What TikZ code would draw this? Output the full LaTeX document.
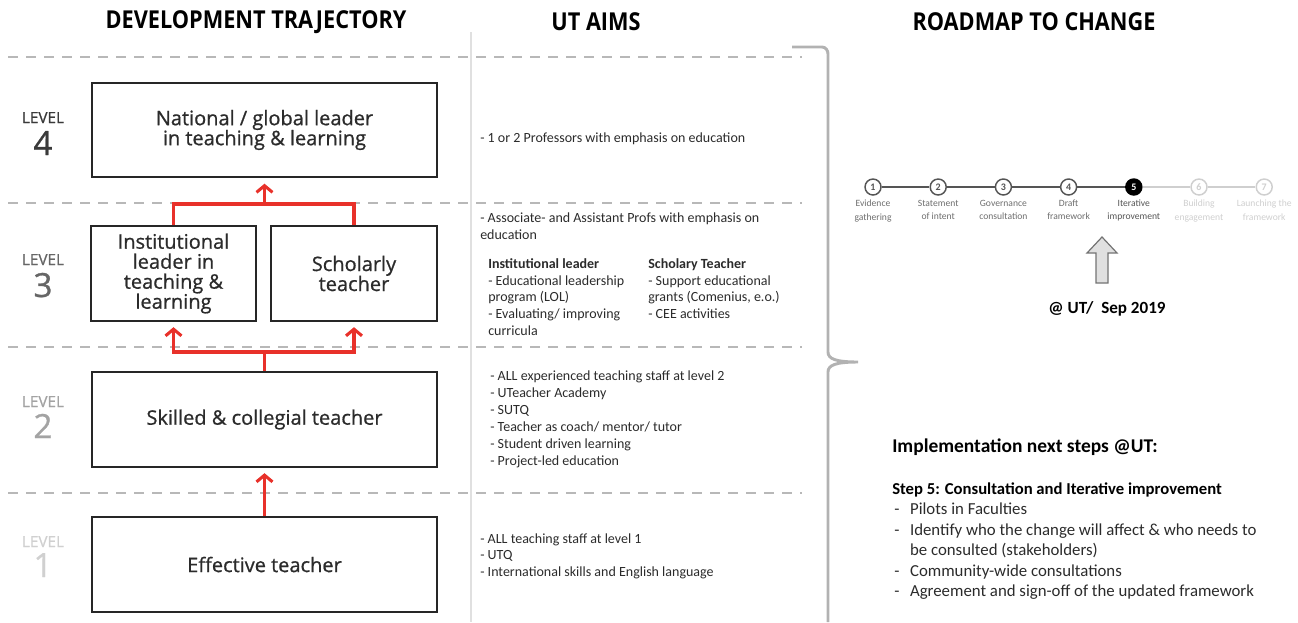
\documentclass[tikz,border=0pt]{standalone}
\usepackage{fontspec}
\setmainfont{Open Sans}
\newfontfamily\calfont{Carlito}
\newfontfamily\semifont{Open Sans}[FakeBold=0.8]
\newfontfamily\headfont{Open Sans}[FakeStretch=0.88]
\usetikzlibrary{positioning,arrows.meta}
\definecolor{redc}{HTML}{E8312A}
\definecolor{txtdark}{HTML}{2B2B2B}
\definecolor{dashgray}{HTML}{B8B8B8}
\definecolor{bracegray}{HTML}{B2B2B2}
\definecolor{stepdark}{HTML}{555555}
\definecolor{steplight}{HTML}{CFCFCF}
\definecolor{lv4}{HTML}{3A3A3A}
\definecolor{lv3}{HTML}{666666}
\definecolor{lv2}{HTML}{A3A3A3}
\definecolor{lv1}{HTML}{D0D0D0}

\begin{document}
\begin{tikzpicture}[x=0.75pt,y=-0.75pt,
    every node/.style={inner sep=0pt, text=txtdark},
    headline/.style={font=\headfont\bfseries\fontsize{18.5}{18.5}\selectfont, text=black},
    lvlbox/.style={draw=black!85, line width=1.5pt, align=center, minimum height=71pt,
        font=\semifont\fontsize{15}{15}\selectfont},
    lvlword/.style={anchor=base, font=\semifont\fontsize{11.5}{11.5}\selectfont},
    lvlnum/.style={anchor=base, font=\semifont\fontsize{25}{25}\selectfont},
    aim/.style={anchor=north west, align=left, font=\calfont\fontsize{10.5}{12.7}\selectfont},
    levelsep/.style={draw=dashgray, line width=1.3pt, dash pattern=on 7.5pt off 6pt},
    redline/.style={draw=redc, line width=2.3pt},
    redarrow/.style={redline, -{Straight Barb[length=5pt,width=12pt]}, shorten >=4pt},
    bracket/.style={draw=bracegray, line width=2.2pt},
    stepdot/.style={circle, draw, line width=1.1pt, fill=white, minimum size=12pt,
        font=\calfont\bfseries\fontsize{7.5}{7.5}\selectfont},
    done/.style={draw=stepdark, text=stepdark},
    now/.style={draw=black, fill=black, text=white},
    todo/.style={draw=steplight, text=steplight},
    steplab/.style={align=center, font=\calfont\fontsize{7.2}{10}\selectfont},
    labdone/.style={text=stepdark!85},
    labnow/.style={text=stepdark},
    labtodo/.style={text=steplight},
    linkdone/.style={draw=stepdark, line width=1.1pt},
    linktodo/.style={draw=steplight, line width=1.1pt},
  ]
  \useasboundingbox (0,0) rectangle (1298,622);

  \node[headline] (ttraj) at (256,22) {DEVELOPMENT TRAJECTORY};
  \node[headline] (taims) at (596,22) {UT AIMS};
  \node[headline] (troad) at (1034,22) {ROADMAP TO CHANGE};

  \draw[draw=black!12, line width=0.8pt] (471,32) -- (471,622);
  \foreach \y in {57,203,347,493}
    \draw[levelsep] (8,\y) -- (802,\y);

  \foreach \n/\yw/\yn in {4/123/155,3/265/297,2/407/438,1/547/577} {
    \node[lvlword, text=lv\n] (w\n) at (43,\yw) {LEVEL};
    \node[lvlnum, text=lv\n] (n\n) at (43,\yn) {\n};
  }

  \node[lvlbox, minimum width=258.75pt] (natl) at (264.5,130) {National / global leader\\in teaching \& learning};
  \node[lvlbox, minimum width=123.75pt] (inst) at (173.5,273.5) {Institutional\\leader in\\teaching \&\\learning};
  \node[lvlbox, minimum width=124.5pt] (schol) at (354,273.5) {Scholarly\\teacher};
  \node[lvlbox, minimum width=258.75pt] (skill) at (264.5,419.5) {Skilled \& collegial teacher};
  \node[lvlbox, minimum width=258.75pt] (eff) at (264.5,564.5) {Effective teacher};

  \coordinate (fork) at (264.5,352);
  \coordinate (join) at (264.5,204);
  \draw[redarrow] (eff) -- (skill);
  \draw[redline] (skill.north) -- (fork);
  \draw[redarrow] (fork) -| (inst.south);
  \draw[redarrow] (fork) -| (schol.south);
  \draw[redline] (inst.north) |- (join) -| (schol.north);
  \draw[redarrow] (join) -- (natl.south);

  \node[aim] (a4) at (480,133) {- 1 or 2 Professors with emphasis on education};
  \node[aim] (a3) at (480,213) {- Associate- and Assistant Profs with emphasis on\\education};
  \node[aim] (a3l) at (488,258) {\textbf{Institutional leader}\\- Educational leadership\\program (LOL)\\- Evaluating/ improving\\curricula};
  \node[aim] (a3r) at (648,258) {\textbf{Scholary Teacher}\\- Support educational\\grants (Comenius, e.o.)\\- CEE activities};
  \node[aim] (a2) at (490,371) {- ALL experienced teaching staff at level 2\\- UTeacher Academy\\- SUTQ\\- Teacher as coach/ mentor/ tutor\\- Student driven learning\\- Project-led education};
  \node[aim] (a1) at (480,533) {- ALL teaching staff at level 1\\- UTQ\\- International skills and English language};

  \draw[bracket] (792,47) -- (822,47) to[out=0,in=90] (828,54) -- (828,352)
    .. controls (828,359) and (836,362) .. (858,362)
    .. controls (836,362) and (828,365) .. (828,372) -- (828,622);

  \foreach \i/\st/\lab in {1/done/{Evidence\\gathering}, 2/done/{Statement\\of intent},
      3/done/{Governance\\consultation}, 4/done/{Draft\\framework}, 5/now/{Iterative\\improvement},
      6/todo/{Building\\engagement}, 7/todo/{Launching the\\framework}} {
    \node[stepdot, \st] (s\i) at ({873+65.2*(\i-1)},187) {\i};
    \node[steplab, lab\st, below=3pt of s\i] (l\i) {\lab};
  }
  \foreach \i/\j/\st in {1/2/done,2/3/done,3/4/done,4/5/done,5/6/todo,6/7/todo}
    \draw[link\st] (s\i) -- (s\j);

  \draw[fill=black!12, draw=black!55, line width=0.9pt] (1096,283) -- (1096,253) -- (1087,253)
    -- (1102,237) -- (1117,253) -- (1108,253) -- (1108,283) -- cycle;
  \node[font=\calfont\bfseries\fontsize{12.8}{12.8}\selectfont, text=black] (when) at (1107,309) {@ UT/\ \ Sep 2019};

  \node[anchor=west, font=\calfont\bfseries\fontsize{14.6}{14.6}\selectfont, text=black] (impl) at (892,447) {Implementation next steps @UT:};
  \node[anchor=west, font=\calfont\bfseries\fontsize{12.5}{12.5}\selectfont, text=black] (step5) at (892,490) {Step 5: Consultation and Iterative improvement};
  \node[anchor=north west, font=\calfont\fontsize{12.6}{15.4}\selectfont] (steps) at (894,500) {%
    \begin{tabular}{@{}l@{\hspace{8pt}}l@{}}
      - & Pilots in Faculties\\
      - & Identify who the change will affect \& who needs to\\
        & be consulted (stakeholders)\\
      - & Community-wide consultations\\
      - & Agreement and sign-off of the updated framework
    \end{tabular}};
\end{tikzpicture}
\end{document}
